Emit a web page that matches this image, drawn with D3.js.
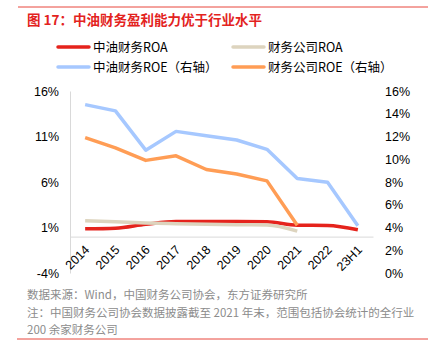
<!DOCTYPE html>
<html><head><meta charset="utf-8">
<script src="https://cdn.jsdelivr.net/npm/d3@7"></script>
<style>
body{margin:0;background:#fff;}
text{font-family:"Liberation Sans",Arial,"Noto Sans CJK SC",sans-serif;}
</style></head>
<body><svg id="c" width="430" height="352"></svg>
<script>
const categories = ["2014","2015","2016","2017","2018","2019","2020","2021","2022","23H1"];
const zyROA = [0.85,0.92,1.35,1.65,1.65,1.65,1.62,1.25,1.22,0.75];
const gsROA = [1.73,1.62,1.5,1.42,1.35,1.3,1.28,0.6,null,null];
const zyROE = [14.8,14.25,10.8,12.45,12.07,11.69,10.87,8.3,7.97,4.16];
const gsROE = [11.9,11.0,9.9,10.3,9.1,8.7,8.1,4.2,null,null];
const leftTicks = [-4,1,6,11,16];
const rightTicks = [0,2,4,6,8,10,12,14,16];
const title = "图 17：中油财务盈利能力优于行业水平";
const notes = ["数据来源：Wind，中国财务公司协会，东方证券研究所",
  "注：中国财务公司协会数据披露截至  2021  年末，范围包括协会统计的全行业",
  "200 余家财务公司"];
const series = [
  {name:"中油财务ROA", data:zyROA, axis:"L", color:"#E5231C", smooth:true},
  {name:"财务公司ROA", data:gsROA, axis:"L", color:"#DDD4BE", smooth:true},
  {name:"中油财务ROE（右轴）", data:zyROE, axis:"R", color:"#A6C8FF", smooth:false},
  {name:"财务公司ROE（右轴）", data:gsROE, axis:"R", color:"#FF9D55", smooth:false}
];

const svg = d3.select("#c");
const cjk = '"Noto Sans CJK SC","Liberation Sans",sans-serif';
// frame lines
svg.append("line").attr("x1",18).attr("x2",428).attr("y1",7).attr("y2",7).attr("stroke","#E8463C").attr("stroke-width",1);
svg.append("line").attr("x1",17).attr("x2",428).attr("y1",339).attr("y2",339).attr("stroke","#E8463C").attr("stroke-width",1);
svg.append("text").attr("x",27).attr("y",25).attr("fill","#E3231E").attr("font-size",13.5).attr("font-weight","bold")
  .style("font-family",cjk).text(title);

const x = d3.scaleBand().domain(categories).range([70,373]);
const yL = d3.scaleLinear().domain([-4,16]).range([273,91]);
const yR = d3.scaleLinear().domain([0,16]).range([273,91]);

// axes
const gl = svg.append("g").attr("transform","translate(70,0)")
  .call(d3.axisLeft(yL).tickValues(leftTicks).tickSize(0).tickPadding(11).tickFormat(d=>d+"%"));
gl.select(".domain").attr("stroke","#D9D9D9");
gl.selectAll("text").attr("font-size",12.5).attr("fill","#000").style("font-family",'"Liberation Sans",Arial,sans-serif');

const gr = svg.append("g").attr("transform","translate(373,0)")
  .call(d3.axisRight(yR).tickValues(rightTicks).tickSize(0).tickPadding(12).tickFormat(d=>d+"%"));
gr.select(".domain").remove();
gr.selectAll("text").attr("font-size",12.5).attr("fill","#000").style("font-family",'"Liberation Sans",Arial,sans-serif');

const gx = svg.append("g").attr("transform",`translate(0,${yL(0)})`)
  .call(d3.axisBottom(x).tickSize(0).tickPadding(0));
gx.select(".domain").attr("stroke","#D9D9D9");
gx.selectAll("text").attr("font-size",12.5).attr("fill","#000")
  .style("font-family",'"Liberation Sans",Arial,sans-serif')
  .attr("text-anchor","end").attr("dy",0)
  .attr("transform","translate(5,14) rotate(-45)");

// lines
series.forEach(s=>{
  const y = s.axis==="L"?yL:yR;
  const line = d3.line().defined(d=>d!=null)
    .x((d,i)=>x(categories[i])+x.bandwidth()/2).y(d=>y(d))
    .curve(s.smooth?d3.curveMonotoneX:d3.curveLinear);
  svg.append("path").datum(s.data).attr("d",line).attr("fill","none")
    .attr("stroke",s.color).attr("stroke-width",3.5).attr("stroke-linejoin","round");
});

// legend
const legPos = [[58,47],[233,47],[58,67],[233,67]];
series.forEach((s,i)=>{
  const [lx,ly]=legPos[i];
  svg.append("line").attr("x1",lx).attr("x2",lx+31).attr("y1",ly).attr("y2",ly)
    .attr("stroke",s.color).attr("stroke-width",3.5).attr("stroke-linecap","round");
  svg.append("text").attr("x",lx+35).attr("y",ly+4.5).attr("font-size",12.5).attr("fill","#000")
    .style("font-family",cjk).text(s.name);
});

// notes
notes.forEach((t,i)=>{
  svg.append("text").attr("x",27).attr("y",299+i*17.5).attr("font-size",11.5).attr("fill","#8C8C8C")
    .style("font-family",cjk).text(t);
});
</script></body></html>
